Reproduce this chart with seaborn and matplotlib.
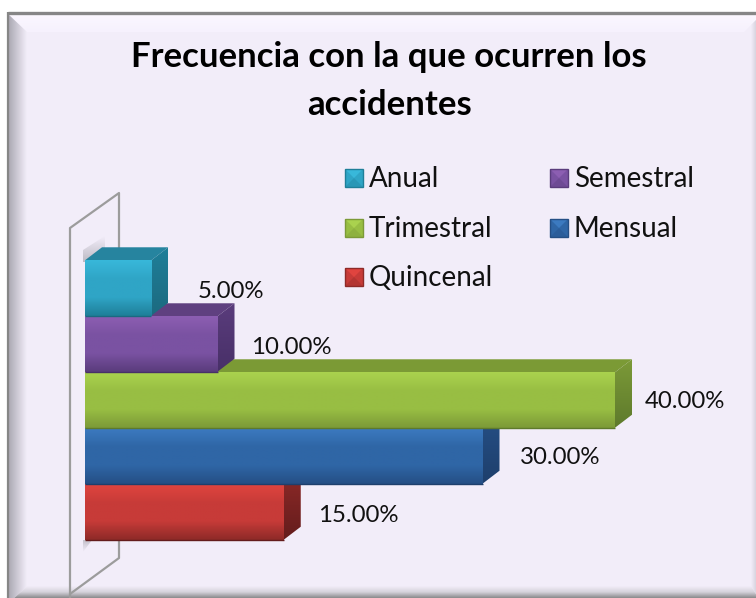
import numpy as np
import pandas as pd
import seaborn as sns
import matplotlib
matplotlib.use("Agg")
import matplotlib.pyplot as plt
from matplotlib.colors import LinearSegmentedColormap
from matplotlib.patches import Polygon, Rectangle

categorias = ["Anual", "Semestral", "Trimestral", "Mensual", "Quincenal"]
valores = [5, 10, 40, 30, 15]
etiquetas = ["5.00%", "10.00%", "40.00%", "30.00%", "15.00%"]
titulo = "Frecuencia con la que ocurren los\naccidentes"

# colores: brillo, medio, oscuro, cara superior, lateral
brillo = ["#38B8DA", "#8C5EB2", "#AAD24E", "#3C7AC0", "#E0443F"]
medio = ["#2FA5C6", "#7A52A2", "#98BE43", "#2F66A6", "#C73B38"]
oscuro = ["#1F7F99", "#5A3C7C", "#7C9A38", "#254F85", "#8E2A28"]
techo = ["#26849F", "#5F4080", "#7B9A35", "#234C80", "#8E2626"]
lateral = ["#1C6A80", "#483068", "#5E7A2C", "#1E3F6C", "#641C1C"]

# desplazamiento en pixeles de cada etiqueta respecto al final de la barra
etiqueta_dx = [46, 34, 30, 37, 34]
etiqueta_dy = [4, 3, 2, 1, 3]

W, H = 756, 598
BG = "#F2EDF9"

sns.set_theme(style="white")
plt.rcParams['font.family'] = ['Lato', 'DejaVu Sans']

fig = plt.figure(figsize=(W / 100, H / 100), dpi=100, facecolor="white")

bg = fig.add_axes([0, 0, 1, 1], zorder=0)
bg.axis("off")


def degradado(a, c1, c2, extent, horizontal=False, clip=None, z=1):
    cm = LinearSegmentedColormap.from_list("g", c1 if isinstance(c1, list) else [c1, c2])
    g = np.linspace(0, 1, 64)
    g = g.reshape(1, -1) if horizontal else g.reshape(-1, 1)
    im = a.imshow(g, extent=extent, cmap=cm, aspect="auto", zorder=z, clip_on=True, origin="upper",
                  vmin=0, vmax=1, interpolation="bilinear")
    # el recorte de los ejes no debe cortar la profundidad de las barras
    im.set_clip_box(fig.bbox)
    if clip is not None:
        pol = Polygon(clip, transform=a.transData, fc="none", ec="none", clip_on=False)
        a.add_patch(pol)
        im.set_clip_path(pol)
    return im


# marco biselado, se sale un poco por abajo y por la derecha
L, T, R, B = 8, 14, 762, 604
bg.add_patch(Rectangle((L, T), R - L, B - T, fc=BG, ec="none", zorder=0))
degradado(bg, "#FBF7FF", "#F6F1FD", (L, R, 32, T), clip=[(L, T), (R, T), (R - 18, 32), (L + 19, 32)])
degradado(bg, "#A9A7B1", BG, (L, 27, B, T), horizontal=True, clip=[(L, T), (27, 32), (27, B - 18), (L, B)])
degradado(bg, BG, "#B8B5BF", (751, R, B, T), horizontal=True, clip=[(R, T), (751, 25), (751, 586), (R, B)])
degradado(bg, ["#F2EDF9", "#D5D2DB", "#8A8A8C"], None, (L, R, B - 6, 586), clip=[(27, 586), (751, 586), (R, B), (L, B)])
bg.plot([L - 0.5, R], [13, 13], color="#868686", lw=2.4, zorder=3, solid_capstyle="butt")
bg.plot([7.5, 7.5], [12, H], color="#868686", lw=1.6, zorder=3, solid_capstyle="butt")

# pared del grafico
bg.plot([70, 70, 119, 119], [598, 228, 193, 260], color="#9C9C9C", lw=1.6, zorder=2)
bg.plot([70, 119, 119], [594, 558, 540], color="#9C9C9C", lw=1.6, zorder=2)

# sombra de la pared
degradado(bg, BG, "#BDBAC4", (83, 105, 262, 236), clip=[(83, 262), (83, 250), (105, 236), (105, 262)], z=1.5)
degradado(bg, "#C4C1CB", BG, (83, 92, 552, 540), clip=[(83, 540), (92, 540), (83, 552)], z=1.5)

# leyenda
posiciones = [(345, 178), (550, 178), (345, 228), (550, 228), (345, 277)]
for nombre, c, b, o, (lx, ly) in zip(categorias, medio, brillo, oscuro, posiciones):
    top, bot = ly - 9, ly + 9
    mx, my = lx + 9, ly
    bg.add_patch(Rectangle((lx, top), 18, 18, fc=c, ec="none", zorder=3))
    bg.add_patch(Polygon([(lx, top), (lx + 18, top), (mx, my)], fc=b, ec="none", zorder=3.1))
    bg.add_patch(Polygon([(lx, bot), (lx + 18, bot), (mx, my)], fc=o, ec="none", alpha=0.35, zorder=3.1))
    bg.add_patch(Rectangle((lx, top), 18, 18, fc="none", ec=o, lw=1, zorder=3.2))
    bg.text(lx + 24, ly + 1, nombre, fontsize=20, va="center", ha="left", color="#111111", zorder=3)

bg.set_xlim(0, W)
bg.set_ylim(H, 0)

# barras
ax = fig.add_axes([85 / W, 1 - 540 / H, (615 - 85) / W, (540 - 260) / H], zorder=2)
df = pd.DataFrame({"categoria": categorias, "valor": valores})
sns.barplot(data=df, y="categoria", x="valor", hue="categoria", palette=medio, legend=False,
            width=0.99, ax=ax, saturation=1)
ax.axis("off")
ax.patch.set_alpha(0)
ax.set_xlim(0, 40)
ax.set_ylim(4.5, -0.5)

px = 40 / 530
py = 5 / 280
dx = 17 * px
dy = 13 * py
barras = list(ax.patches)
for i, p in enumerate(barras):
    x0, y0 = p.get_x(), p.get_y()
    w, h = p.get_width(), p.get_height()
    x1, y1 = x0 + w, y0 + h
    p.set_visible(False)
    # las caras de fondo de cada barra tapan a las de la barra de abajo
    z = 1 + (5 - i) * 0.1
    ax.add_patch(Polygon([(x0, y0), (x0 + dx, y0 - dy), (x1 + dx, y0 - dy), (x1, y0)],
                         fc=techo[i], ec="none", clip_on=False, zorder=z))
    degradado(ax, oscuro[i], lateral[i], (x1, x1 + dx, y1, y0 - dy), z=z + 0.01,
              clip=[(x1, y0), (x1 + dx, y0 - dy), (x1 + dx, y1 - dy), (x1, y1)])
    # cara frontal
    degradado(ax, [brillo[i], medio[i], medio[i], oscuro[i]], None, (x0, x1, y1, y0), z=2)
    ax.plot([x0, x1], [y1, y1], color=lateral[i], lw=1, zorder=2.1, solid_capstyle="butt", clip_on=False)
    ax.annotate(etiquetas[i], xy=(x1, (y0 + y1) / 2), xytext=(etiqueta_dx[i] * 0.72, -etiqueta_dy[i] * 0.72),
                textcoords="offset points", fontsize=17.3, color="#111111", ha="left", va="center",
                zorder=10, annotation_clip=False)
ax.set_xlim(0, 40)
ax.set_ylim(4.5, -0.5)

fig.text(389 / W, 1 - 81 / H, titulo, fontsize=25, fontweight="bold", ha="center", va="center",
         color="black", linespacing=1.6)

fig.savefig("out.png", dpi=100)
